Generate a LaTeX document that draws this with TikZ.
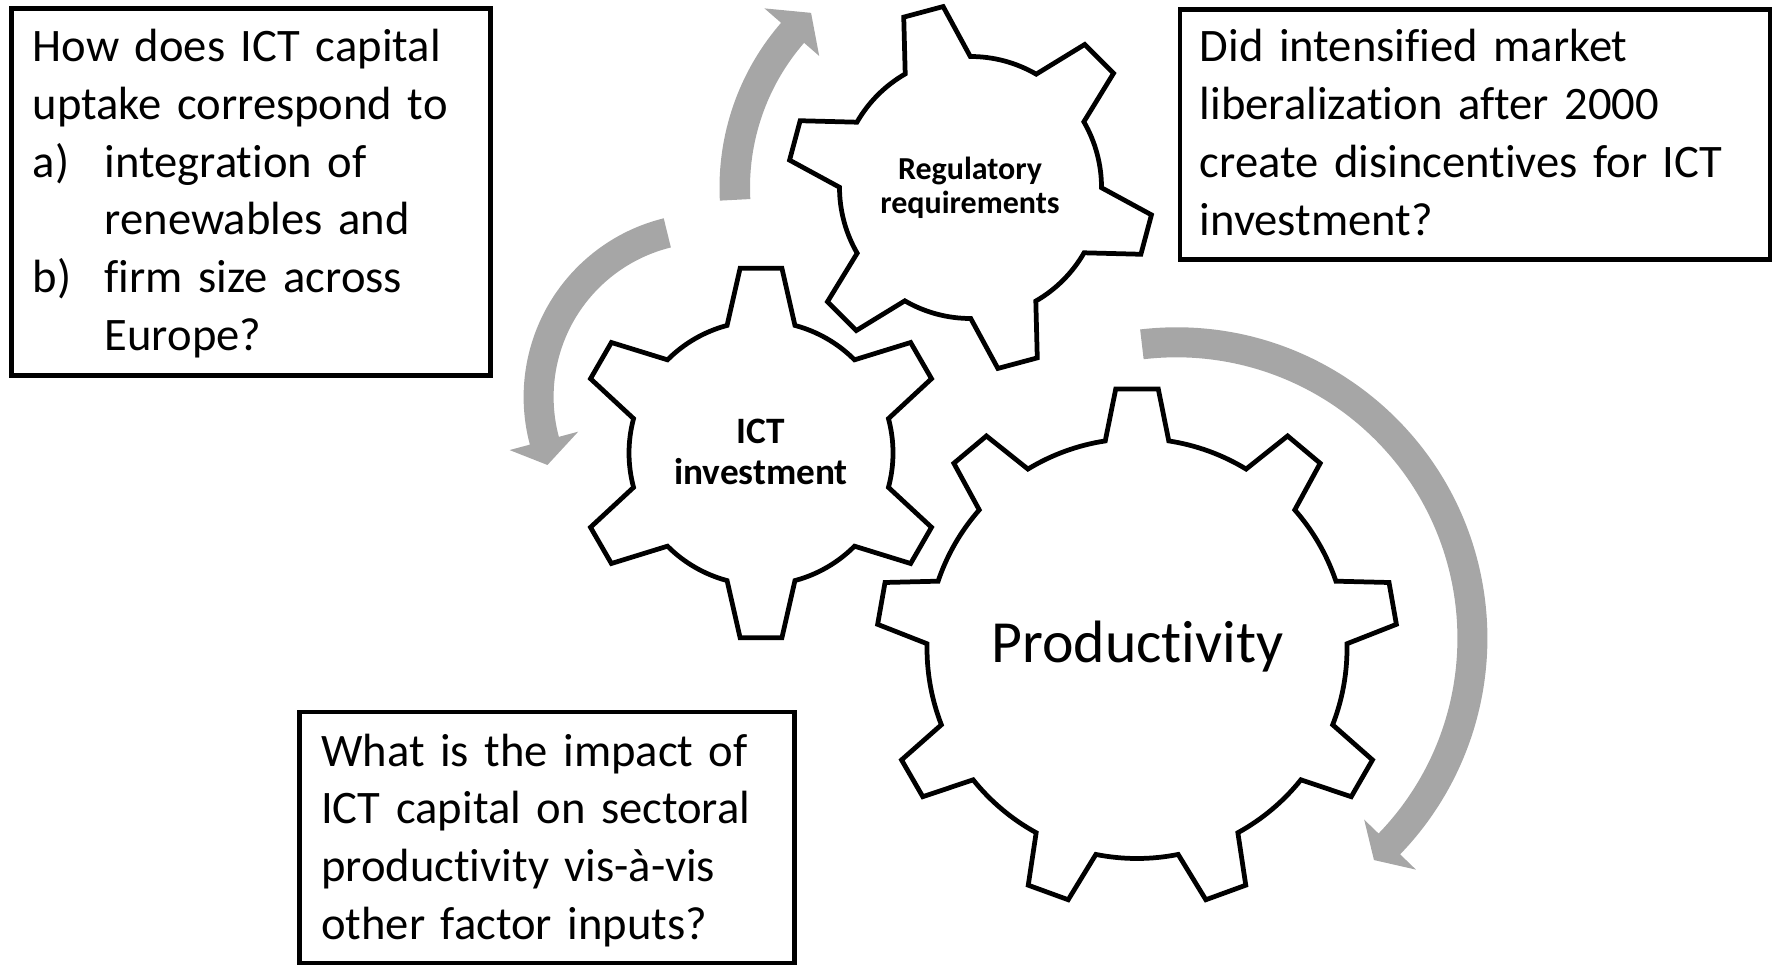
\documentclass[tikz,border=0pt]{standalone}
\usepackage{fontspec}
\setmainfont{Carlito}[Ligatures=CommonOff]
\definecolor{arrowgray}{RGB}{166,166,166}

% Gear outline: centre, teeth, tip radius, root radius,
% tip half-angle, base half-angle, angle of the first tooth
\newcommand{\gearwheel}[7]{%
  \pgfmathsetmacro{\gearpitch}{360/#2}%
  \draw[gearline, shift={#1}] ({#7-#6}:#4)
    \foreach \k in {1,...,#2}{
      -- ({#7+(\k-1)*\gearpitch-#5}:#3)
      -- ({#7+(\k-1)*\gearpitch+#5}:#3)
      -- ({#7+(\k-1)*\gearpitch+#6}:#4)
      arc[start angle={#7+(\k-1)*\gearpitch+#6}, end angle={#7+\k*\gearpitch-#6}, radius=#4]
    } -- cycle;%
}

\begin{document}
\begin{tikzpicture}[x=0.01cm, y=0.01cm,
  gearline/.style={draw=black, line width=1.35pt, fill=white, line join=miter},
  turnarrow/.style={fill=arrowgray, draw=none},
  qframe/.style={draw=black, line width=1.25pt, inner sep=0pt},
  qtext/.style={anchor=base west, inner sep=0pt, align=left, text width=170pt,
    font=\fontsize{13.25pt}{16.42pt}\selectfont},
  gearlabel/.style={anchor=base, inner sep=0pt, align=center, text width=90pt}
]
\useasboundingbox (0,0) rectangle (1777,966);

% curved arrows
\coordinate (regc) at (970.5,778.5);
\coordinate (leftc) at (707.6,569);
\coordinate (rightc) at (1176.4,327.7);

\fill[turnarrow, shift={(regc)}] (183:251) arc[start angle=183, end angle=139, radius=251]
  -- (139:273) -- (132.4:236.5) -- (139:200.5) -- (139:220.5)
  arc[start angle=139, end angle=183, radius=220.5] -- cycle;

\fill[turnarrow, shift={(leftc)}] (103.8:184) arc[start angle=103.8, end angle=195, radius=184]
  -- (195:205) -- (203:174) -- (195:134) -- (195:154)
  arc[start angle=195, end angle=103.8, radius=154] -- cycle;

\fill[turnarrow, shift={(rightc)}] (96.7:311) arc[start angle=96.7, end angle=-44, radius=311]
  -- (-44:333) -- (-48.3:297) -- (-44:261) -- (-44:281)
  arc[start angle=-44, end angle=96.7, radius=281] -- cycle;

% gears
\gearwheel{(761,513)}{6}{186}{132}{6.45}{14.9}{90}
\gearwheel{(970.5,778.5)}{6}{183}{131}{6.4}{14.9}{105}
\gearwheel{(1137,317.5)}{9}{260.5}{210}{4.68}{8.7}{90}

\node[gearlabel, font=\bfseries\fontsize{10.6pt}{11.6pt}\selectfont] (ictlabel) at (761,522.7) {ICT\\investment};
\node[gearlabel, font=\bfseries\fontsize{9.1pt}{9.6pt}\selectfont] (reglabel) at (970,786) {Regulatory\\requirements};
\node[anchor=base, inner sep=0pt, font=\fontsize{17pt}{20pt}\selectfont] (prodlabel) at (1137.5,304) {Productivity};

% question boxes
\node[qframe, minimum width=4.79cm, minimum height=3.67cm] (qleft) at (251,774) {};
\node[qtext] (qlefttext) at (32,904.3) {How does ICT capital\\uptake correspond to\\
  \makebox[20.5pt][l]{a)}integration of\\\hspace*{20.5pt}renewables and\\
  \makebox[20.5pt][l]{b)}firm size across\\\hspace*{20.5pt}Europe?};

\node[qframe, minimum width=5.9cm, minimum height=2.5cm] (qright) at (1475,831.5) {};
\node[qtext] (qrighttext) at (1199,904) {Did intensified market\\liberalization after 2000\\create disincentives for ICT\\investment?};

\node[qframe, minimum width=4.95cm, minimum height=2.51cm] (qbottom) at (547,128.5) {};
\node[qtext] (qbottomtext) at (320.5,200) {What is the impact of\\ICT capital on sectoral\\productivity vis-à-vis\\other factor inputs?};

\end{tikzpicture}
\end{document}
